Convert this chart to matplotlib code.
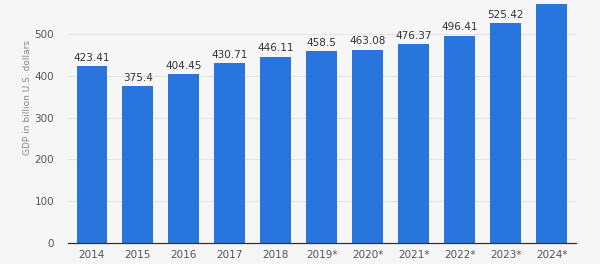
import matplotlib.pyplot as plt

years = ["2014", "2015", "2016", "2017", "2018", "2019*", "2020*", "2021*", "2022*", "2023*", "2024*"]
gdp = [423.41, 375.4, 404.45, 430.71, 446.11, 458.5, 463.08, 476.37, 496.41, 525.42, 572.0]
# the 2024 label sits above the visible area in the reference, so it is left blank
labels = ["423.41", "375.4", "404.45", "430.71", "446.11", "458.5", "463.08", "476.37", "496.41", "525.42", ""]

bg = "#f6f6f6"
fig = plt.figure(figsize=(6, 2.64), dpi=100, facecolor=bg)
ax = fig.add_axes([68 / 600, (264 - 243) / 264, (576 - 68) / 600, (243 - 4) / 264], facecolor=bg)

x = range(len(years))
ax.bar(x, gdp, width=0.67, color="#2876dd", zorder=3)

# value labels above the bars
for i, (v, s) in enumerate(zip(gdp, labels)):
    if s:
        ax.text(i, v + 8, s, ha="center", va="bottom", fontsize=7.5, color="#333333")

ax.set_xlim(-0.52, 10.53)
ax.set_ylim(0, 572)
ax.set_yticks([0, 100, 200, 300, 400, 500])
ax.set_xticks(list(x))
ax.set_xticklabels(years)
ax.tick_params(axis="both", length=0, labelsize=7.5, labelcolor="#555555")
ax.tick_params(axis="x", pad=5)
ax.tick_params(axis="y", pad=10)

ax.grid(axis="y", color="#e4e4e4", linewidth=0.8, zorder=0)
for side in ["top", "right", "left"]:
    ax.spines[side].set_visible(False)
ax.spines["bottom"].set_color("#333333")
ax.spines["bottom"].set_linewidth(0.9)
ax.spines["bottom"].set_zorder(4)

ax.set_ylabel("GDP in billion U.S. dollars", fontsize=6.5, color="#888888")
ax.yaxis.set_label_coords(-0.071, 0.61)

fig.savefig("out.png", dpi=100, facecolor=bg)
